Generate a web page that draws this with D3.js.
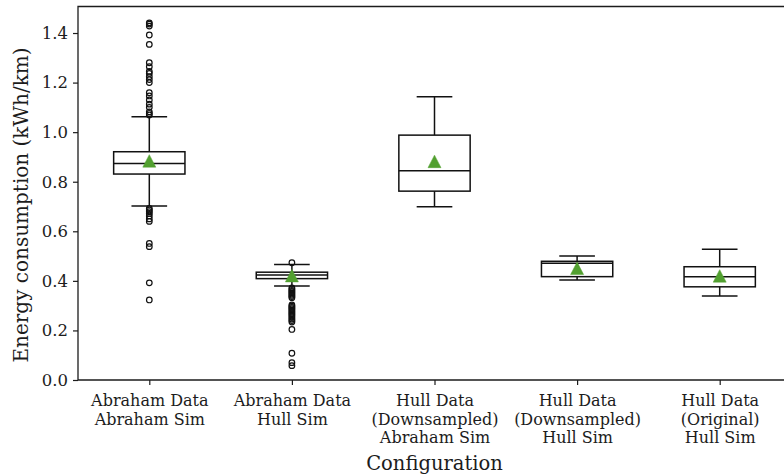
<!DOCTYPE html>
<html>
<head>
<meta charset="utf-8">
<script src="https://cdn.jsdelivr.net/npm/d3@7"></script>
<style>
  html, body { margin: 0; padding: 0; background: #fff; }
  svg { display: block; }
</style>
</head>
<body>
<div id="chart"></div>
<script>
// Energy consumption per configuration: box-and-whisker summaries
const categories = [
  ["Abraham Data", "Abraham Sim"],
  ["Abraham Data", "Hull Sim"],
  ["Hull Data", "(Downsampled)", "Abraham Sim"],
  ["Hull Data", "(Downsampled)", "Hull Sim"],
  ["Hull Data", "(Original)", "Hull Sim"]
];
const whiskerLow  = [0.702, 0.379, 0.699, 0.403, 0.339];
const q1          = [0.831, 0.409, 0.762, 0.417, 0.376];
const medians     = [0.874, 0.424, 0.844, 0.471, 0.417];
const q3          = [0.921, 0.435, 0.988, 0.479, 0.457];
const whiskerHigh = [1.062, 0.466, 1.143, 0.500, 0.528];
const means       = [0.883, 0.420, 0.881, 0.450, 0.419];
const outliers = [
  [1.441, 1.436, 1.428, 1.392, 1.354, 1.280, 1.264, 1.245, 1.237, 1.224, 1.212,
   1.200, 1.159, 1.146, 1.130, 1.113, 1.100, 1.082, 1.075, 1.069,
   0.692, 0.686, 0.679, 0.672, 0.662, 0.650, 0.640, 0.551, 0.538, 0.392, 0.323],
  [0.473,
   0.372, 0.367, 0.362, 0.357, 0.352, 0.347, 0.342, 0.337, 0.332,
   0.303, 0.298, 0.293, 0.288, 0.283, 0.278, 0.273, 0.268, 0.263, 0.258,
   0.252, 0.246, 0.240, 0.234, 0.204, 0.108, 0.070, 0.058],
  [],
  [],
  []
];
const yTicks = [0.0, 0.2, 0.4, 0.6, 0.8, 1.0, 1.2, 1.4];
const yLabel = "Energy consumption (kWh/km)";
const xLabel = "Configuration";

const W = 784, H = 475;
const plotLeft = 78, plotRight = 791, plotTop = 6.5, plotBottom = 380;
const font = "'DejaVu Serif', serif";
const ink = "#1c1c1c";

const svg = d3.select("#chart").append("svg")
  .attr("width", W).attr("height", H)
  .style("overflow", "hidden");

const x = d3.scaleLinear().domain([0.5, 5.5]).range([plotLeft, plotRight]);
const y = d3.scaleLinear().domain([0, 1.507]).range([plotBottom, plotTop]);
const boxW = x(1.25) - x(1);   // half of 0.5 units
const capW = x(1.125) - x(1);  // half of 0.25 units

// Y axis
const yAxis = svg.append("g")
  .attr("transform", `translate(${plotLeft},0)`)
  .call(d3.axisLeft(y).tickValues(yTicks).tickFormat(d3.format(".1f"))
    .tickSize(5).tickSizeOuter(0).tickPadding(5));
yAxis.select(".domain").remove();
yAxis.selectAll("line").attr("stroke", ink).attr("stroke-width", 1.2);
yAxis.selectAll("text").attr("font-family", font).attr("font-size", 16.5).attr("fill", ink);

// X axis
const xAxis = svg.append("g")
  .attr("transform", `translate(0,${plotBottom})`)
  .call(d3.axisBottom(x).tickValues([1, 2, 3, 4, 5]).tickFormat("")
    .tickSize(5).tickSizeOuter(0));
xAxis.select(".domain").remove();
xAxis.selectAll("line").attr("stroke", ink).attr("stroke-width", 1.2);
xAxis.selectAll(".tick").each(function(d, i) {
  const t = d3.select(this).append("text")
    .attr("font-family", font).attr("font-size", 16)
    .attr("fill", ink).attr("text-anchor", "middle");
  categories[i].forEach((line, j) => {
    t.append("tspan").attr("x", 0).attr("y", 26 + j * 18.5).text(line);
  });
});

// Spines
svg.append("path")
  .attr("d", `M${plotRight},${plotTop}H${plotLeft}V${plotBottom}H${plotRight}`)
  .attr("fill", "none").attr("stroke", ink).attr("stroke-width", 1.3);

// Boxes
const g = svg.append("g");
categories.forEach((c, i) => {
  const cx = x(i + 1);
  const b = g.append("g").attr("stroke", "#111").attr("stroke-width", 1.5).attr("fill", "none");
  // whiskers
  b.append("line").attr("x1", cx).attr("x2", cx).attr("y1", y(q3[i])).attr("y2", y(whiskerHigh[i]));
  b.append("line").attr("x1", cx).attr("x2", cx).attr("y1", y(q1[i])).attr("y2", y(whiskerLow[i]));
  // caps
  b.append("line").attr("x1", cx - capW).attr("x2", cx + capW).attr("y1", y(whiskerHigh[i])).attr("y2", y(whiskerHigh[i]));
  b.append("line").attr("x1", cx - capW).attr("x2", cx + capW).attr("y1", y(whiskerLow[i])).attr("y2", y(whiskerLow[i]));
  // box
  b.append("rect").attr("x", cx - boxW).attr("width", 2 * boxW)
    .attr("y", y(q3[i])).attr("height", y(q1[i]) - y(q3[i]));
  // median
  b.append("line").attr("x1", cx - boxW).attr("x2", cx + boxW).attr("y1", y(medians[i])).attr("y2", y(medians[i]));
  // fliers
  b.selectAll("circle").data(outliers[i]).join("circle")
    .attr("cx", cx).attr("cy", d => y(d)).attr("r", 2.8)
    .attr("stroke-width", 1.2).attr("fill", "none");
  // mean marker
  const my = y(means[i]);
  g.append("path")
    .attr("d", `M${cx},${my - 6.5}L${cx + 6.5},${my + 6}L${cx - 6.5},${my + 6}Z`)
    .attr("fill", "#52a030").attr("stroke", "#52a030").attr("stroke-width", 0.5);
});

// Axis titles
svg.append("text")
  .attr("x", (plotLeft + plotRight) / 2).attr("y", 470)
  .attr("text-anchor", "middle").attr("font-family", font).attr("font-size", 19.5)
  .attr("fill", ink).text(xLabel);
svg.append("text")
  .attr("transform", `translate(28,205) rotate(-90)`)
  .attr("text-anchor", "middle").attr("font-family", font).attr("font-size", 20)
  .attr("fill", ink).text(yLabel);
</script>
</body>
</html>
